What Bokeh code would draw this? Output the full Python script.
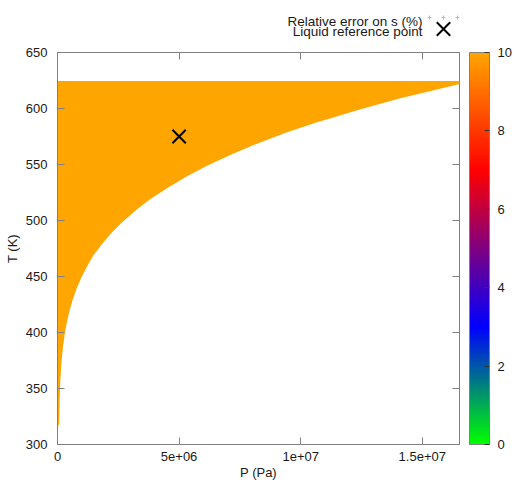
import numpy as np
from bokeh.plotting import figure
from bokeh.layouts import column
from bokeh.models import Range1d, LinearAxis, FixedTicker, ColorBar, LinearColorMapper
from bokeh.core.properties import value
from bokeh.embed import file_html
from bokeh.resources import INLINE

# ---- data ----
# boundary of the sampled region (saturation curve): temperature (K) and pressure (Pa)
sat_T = [318.0, 330.0, 340.0, 350.0, 360.0, 370.0, 380.0, 390.0, 400.0, 410.0, 420.0,
         430.0, 440.0, 450.0, 460.0, 470.0, 480.0, 490.0, 500.0, 510.0, 520.0, 530.0,
         540.0, 550.0, 560.0, 570.0, 580.0, 590.0, 600.0, 610.0, 623.15]
sat_P = [9.6e3, 1.72e4, 2.72e4, 4.17e4, 6.22e4, 9.06e4, 1.289e5, 1.802e5, 2.458e5, 3.30e5,
         4.37e5, 5.70e5, 7.33e5, 9.32e5, 1.17e6, 1.44e6, 1.79e6, 2.18e6, 2.64e6, 3.17e6,
         3.77e6, 4.47e6, 5.24e6, 6.12e6, 7.10e6, 8.20e6, 9.42e6, 10.80e6, 12.34e6,
         14.00e6, 16.53e6]
rel_error_level = 10.0          # relative error on s (%) – saturated at top of palette
ref_P = [5.0e6]                 # liquid reference point
ref_T = [575.0]

x_ticks = [0, 5000000, 10000000, 15000000]
x_tick_labels = ["0", "5e+06", "1e+07", "1.5e+07"]
y_ticks = [300, 350, 400, 450, 500, 550, 600, 650]
cb_ticks = [0, 2, 4, 6, 8, 10]
cb_low, cb_high = 0, 10
key_labels = ["Relative error on s (%)", "Liquid reference point"]

# ---- styling ----
FONT = "Liberation Sans"
FS = "13px"
TXT = "#1a1a1a"
FRAME = "#808080"
W = 516
KH = 44
FL, FR = 57, 459          # frame left / right (pixels)

# palette: green -> blue -> red -> orange
anchors = [(0, (0, 255, 0)), (3, (0, 0, 255)), (7, (255, 0, 0)), (10, (255, 165, 0))]
palette = []
for v in np.linspace(0, 10, 256):
    for (a, ca), (b, cb) in zip(anchors[:-1], anchors[1:]):
        if a <= v <= b:
            t = (v - a) / (b - a)
            c = [int(round(ca[k] + t * (cb[k] - ca[k]))) for k in range(3)]
            palette.append("#%02x%02x%02x" % tuple(c))
            break
mapper = LinearColorMapper(palette=palette, low=cb_low, high=cb_high)
fill_col = palette[int(round((rel_error_level - cb_low) / (cb_high - cb_low) * 255))]

# ---------------- key strip (gnuplot-style key above the plot) ----------------
# its frame is aligned with the main plot frame, so x data == page pixels
key = figure(width=W, height=KH, output_backend="svg", toolbar_location=None,
             x_range=Range1d(FL, FR), y_range=Range1d(KH, 0),
             x_axis_location=None, y_axis_location=None,
             min_border_left=0, min_border_right=0, min_border_top=0, min_border_bottom=0)
key.xgrid.visible = False
key.ygrid.visible = False
key.outline_line_color = None
kx = 422                       # right end of key texts
key.text([kx, kx], [20.5, 31], text=key_labels, text_align="right",
         text_baseline="alphabetic", text_font=value(FONT), text_font_size=value("13.5px"),
         text_color=TXT)
key.scatter([kx + 7, kx + 21, kx + 35], [17, 17, 17], marker="cross", size=4,
            line_color=fill_col, line_alpha=0.85, line_width=1)
key.scatter([kx + 21], [28.5], marker="x", size=19, line_color="black", line_width=2)

# ---------------- main plot ----------------
p = figure(width=W, height=483 - KH, output_backend="svg", toolbar_location=None,
           x_range=Range1d(0, sat_P[-1]), y_range=Range1d(300, 650),
           min_border_left=FL, min_border_right=W - FR, min_border_top=8,
           min_border_bottom=39)
p.xgrid.visible = False
p.ygrid.visible = False
p.outline_line_color = FRAME
p.background_fill_color = "white"

# sampled region (all errors saturate the palette -> orange)
px = [0, 0] + sat_P[::-1]
py = [sat_T[0], sat_T[-1]] + sat_T[::-1]
p.patch(px, py, fill_color=fill_col, line_color=fill_col, line_width=3)
p.scatter(ref_P, ref_T, marker="x", size=19, line_color="black", line_width=2)

def style_axis(ax, ticks, show_labels=True):
    ax.ticker = FixedTicker(ticks=ticks)
    ax.major_tick_in = 7
    ax.major_tick_out = 0
    ax.minor_tick_in = 0
    ax.minor_tick_out = 0
    ax.major_tick_line_color = FRAME
    ax.axis_line_color = FRAME
    ax.major_label_text_font = FONT
    ax.major_label_text_font_size = FS if show_labels else "0px"
    ax.major_label_text_color = TXT
    ax.axis_label_text_font = FONT
    ax.axis_label_text_font_size = FS
    ax.axis_label_text_font_style = "normal"
    ax.axis_label_text_color = TXT

xa = p.xaxis[0]
style_axis(xa, x_ticks)
xa.major_label_overrides = {t: l for t, l in zip(x_ticks, x_tick_labels)}
xa.axis_label = "P (Pa)"
xa.major_label_standoff = 7
xa.axis_label_standoff = 1

ya = p.yaxis[0]
style_axis(ya, y_ticks)
ya.axis_label = "T (K)"
ya.major_label_standoff = 10
ya.axis_label_standoff = 3

# mirror ticks on top and right
top_ax = LinearAxis()
style_axis(top_ax, x_ticks, show_labels=False)
top_ax.axis_line_color = None
top_ax.major_label_standoff = 0
p.add_layout(top_ax, "above")
right_ax = LinearAxis()
style_axis(right_ax, y_ticks, show_labels=False)
right_ax.axis_line_color = None
right_ax.major_label_standoff = 0
p.add_layout(right_ax, "right")

# colour bar
cbar = ColorBar(color_mapper=mapper, location=(412, 0), width=20, height=392,
                padding=0, margin=0, ticker=FixedTicker(ticks=cb_ticks),
                major_tick_in=5, major_tick_out=0, major_tick_line_color="#333333",
                minor_tick_line_color=None, bar_line_color=FRAME,
                major_label_text_font=FONT, major_label_text_font_size=FS,
                major_label_text_color=TXT, label_standoff=8,
                background_fill_alpha=0, border_line_color=None)
p.add_layout(cbar, "center")

layout = column(key, p, spacing=0)
open("out.html", "w").write(file_html(layout, INLINE))
